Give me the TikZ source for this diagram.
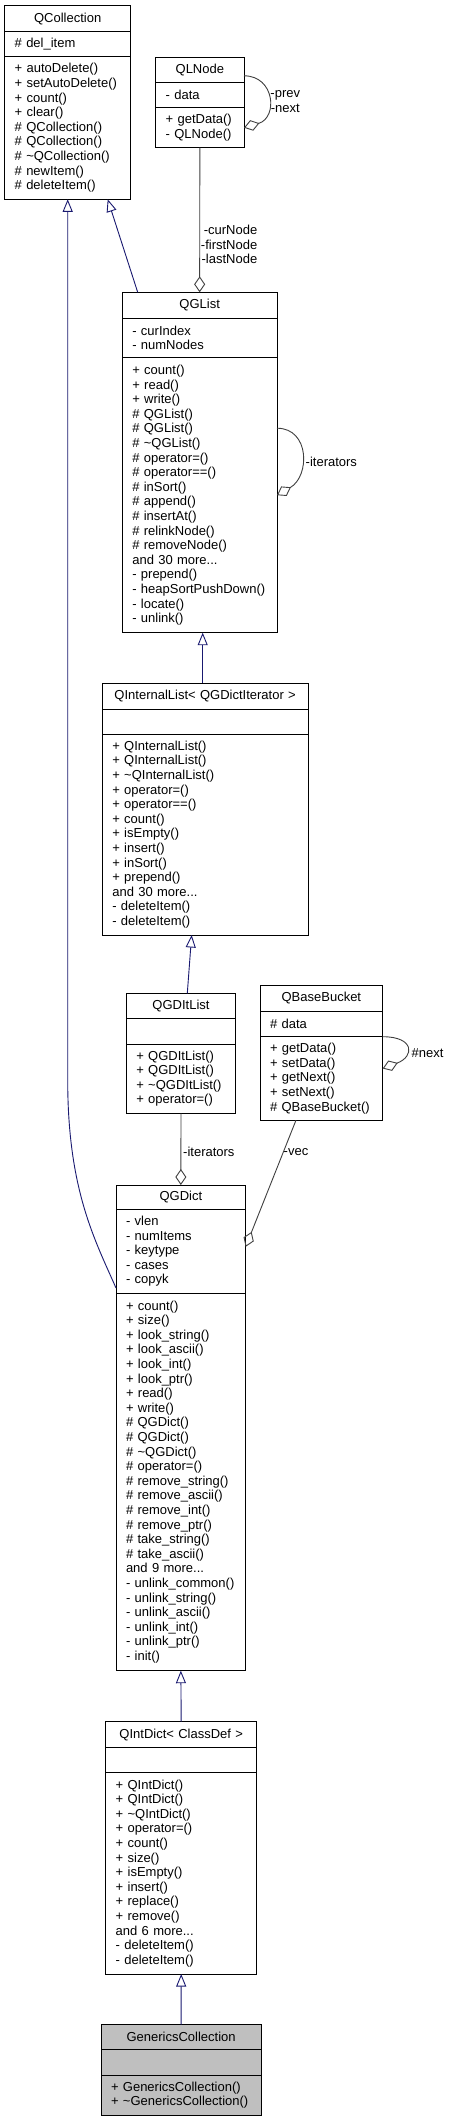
\documentclass[tikz,border=0pt]{standalone}
\usepackage{fontspec}
\setmainfont{Liberation Sans}
\usetikzlibrary{arrows.meta,positioning}

\definecolor{inhblue}{HTML}{191970}
\definecolor{usegray}{HTML}{404040}
\definecolor{curgray}{HTML}{BFBFBF}

\tikzset{
  comp/.style={draw=black, line width=1pt, outer sep=0pt, inner xsep=10pt, inner ysep=0pt,
    text width=#1, align=left},
  head/.style={comp=#1, align=center},
  lbl/.style={inner sep=0pt},
  inherit/.style={draw=inhblue, line width=0.9pt, -{Triangle[open,length=12.5pt,width=10pt]}},
  uses/.style={draw=usegray, line width=0.9pt, -{Diamond[open,length=16pt,width=11pt]}},
}

\begin{document}
\begin{tikzpicture}[x=1pt, y=1pt, font=\fontsize{13pt}{14.6pt}\selectfont]
  \fill[white] (0,0) rectangle (449,-2121);
  \useasboundingbox (0,0) rectangle (449,-2121);

  \node[head=106pt, minimum height=26pt, anchor=north west] (qcoll) at (4.7,-5.7) {QCollection};
  \node[comp=106pt, minimum height=25pt, below=0pt of qcoll] (qcoll-a) {\# del\_item};
  \node[comp=106pt, minimum height=142.6pt, below=0pt of qcoll-a] (qcoll-m)
    {+ autoDelete()\\+ setAutoDelete()\\+ count()\\+ clear()\\\# QCollection()\\\# QCollection()\\\# \textasciitilde QCollection()\\\# newItem()\\\# deleteItem()};

  \node[head=68.3pt, minimum height=25pt, anchor=north west] (qlnode) at (155.7,-57.3) {QLNode};
  \node[comp=68.3pt, minimum height=25.4pt, below=0pt of qlnode] (qlnode-a) {- data};
  \node[comp=68.3pt, minimum height=40pt, below=0pt of qlnode-a] (qlnode-m) {+ getData()\\- QLNode()};

  \node[head=134.7pt, minimum height=26pt, anchor=north west] (qglist) at (122.3,-292.3) {QGList};
  \node[comp=134.7pt, minimum height=39.4pt, below=0pt of qglist] (qglist-a) {- curIndex\\- numNodes};
  \node[comp=134.7pt, minimum height=275pt, below=0pt of qglist-a] (qglist-m)
    {+ count()\\+ read()\\+ write()\\\# QGList()\\\# QGList()\\\# \textasciitilde QGList()\\\# operator=()\\\# operator==()\\\# inSort()\\\# append()\\\# insertAt()\\\# relinkNode()\\\# removeNode()\\and 30 more...\\- prepend()\\- heapSortPushDown()\\- locate()\\- unlink()};

  \node[head=185.7pt, minimum height=26pt, anchor=north west] (qintlist) at (102.3,-683) {QInternalList< QGDictIterator >};
  \node[comp=185.7pt, minimum height=25pt, below=0pt of qintlist] (qintlist-a) {};
  \node[comp=185.7pt, minimum height=201pt, below=0pt of qintlist-a] (qintlist-m)
    {+ QInternalList()\\+ QInternalList()\\+ \textasciitilde QInternalList()\\+ operator=()\\+ operator==()\\+ count()\\+ isEmpty()\\+ insert()\\+ inSort()\\+ prepend()\\and 30 more...\\- deleteItem()\\- deleteItem()};

  \node[head=89.4pt, minimum height=25.4pt, anchor=north west] (qgditlist) at (126.3,-993.3) {QGDItList};
  \node[comp=89.4pt, minimum height=25.3pt, below=0pt of qgditlist] (qgditlist-a) {};
  \node[comp=89.4pt, minimum height=69.3pt, below=0pt of qgditlist-a] (qgditlist-m)
    {+ QGDItList()\\+ QGDItList()\\+ \textasciitilde QGDItList()\\+ operator=()};

  \node[head=102.7pt, minimum height=25.6pt, anchor=north west] (qbb) at (260,-985.7) {QBaseBucket};
  \node[comp=102.7pt, minimum height=25.4pt, below=0pt of qbb] (qbb-a) {\# data};
  \node[comp=102.7pt, minimum height=83.6pt, below=0pt of qbb-a] (qbb-m)
    {+ getData()\\+ setData()\\+ getNext()\\+ setNext()\\\# QBaseBucket()};

  \node[head=109.7pt, minimum height=24.3pt, anchor=north west] (qgdict) at (116,-1185) {QGDict};
  \node[comp=109.7pt, minimum height=84pt, below=0pt of qgdict] (qgdict-a)
    {- vlen\\- numItems\\- keytype\\- cases\\- copyk};
  \node[comp=109.7pt, minimum height=377.4pt, below=0pt of qgdict-a] (qgdict-m)
    {+ count()\\+ size()\\+ look\_string()\\+ look\_ascii()\\+ look\_int()\\+ look\_ptr()\\+ read()\\+ write()\\\# QGDict()\\\# QGDict()\\\# \textasciitilde QGDict()\\\# operator=()\\\# remove\_string()\\\# remove\_ascii()\\\# remove\_int()\\\# remove\_ptr()\\\# take\_string()\\\# take\_ascii()\\and 9 more...\\- unlink\_common()\\- unlink\_string()\\- unlink\_ascii()\\- unlink\_int()\\- unlink\_ptr()\\- init()};

  \node[head=131pt, minimum height=25.6pt, anchor=north west] (qintdict) at (105.7,-1721.7) {QIntDict< ClassDef >};
  \node[comp=131pt, minimum height=25.4pt, below=0pt of qintdict] (qintdict-a) {};
  \node[comp=131pt, minimum height=201.3pt, below=0pt of qintdict-a] (qintdict-m)
    {+ QIntDict()\\+ QIntDict()\\+ \textasciitilde QIntDict()\\+ operator=()\\+ count()\\+ size()\\+ isEmpty()\\+ insert()\\+ replace()\\+ remove()\\and 6 more...\\- deleteItem()\\- deleteItem()};

  \node[head=140.3pt, fill=curgray, minimum height=25pt, anchor=north west] (gencoll) at (101,-2024.7) {GenericsCollection};
  \node[comp=140.3pt, fill=curgray, minimum height=25.6pt, below=0pt of gencoll] (gencoll-a) {};
  \node[comp=140.3pt, fill=curgray, minimum height=39.7pt, below=0pt of gencoll-a] (gencoll-m)
    {+ GenericsCollection()\\+ \textasciitilde GenericsCollection()};

  \draw[inherit] ([xshift=15.4pt]qglist.north west) -- ([xshift=40pt]qcoll-m.south);
  \draw[inherit] ([yshift=-36.7pt]qgdict-a.west) .. controls +(-21,48) and +(0,-110) .. (qcoll-m.south |- 0,-1080) -- (qcoll-m.south);
  \draw[inherit] (qintlist.north -| 202.7,0) -- (qglist-m.south -| 202.7,0);
  \draw[inherit] ([xshift=6.3pt]qgditlist.north) -- ([xshift=-13.5pt]qintlist-m.south);
  \draw[inherit] (qintdict.north) -- (qgdict-m.south);
  \draw[inherit] (gencoll.north) -- (qintdict-m.south);

  \draw[uses] ([yshift=-6pt]qlnode.east) .. controls +(31,0) and +(34,10) .. (qlnode-m.east);
  \node[lbl, align=center] (lbl-prev) at (285.3,-101.7) {-prev\\-next};
  \draw[uses] (qlnode-m.south) -- (qglist.north);
  \node[lbl, align=right, anchor=east] (lbl-nodes) at (257.5,-244.5) {-curNode\\-firstNode\\-lastNode};
  \draw[uses] ([yshift=67pt]qglist-m.east) .. controls +(33,0) and +(33,19) .. (qglist-m.east);
  \node[lbl, anchor=west] (lbl-iter1) at (305.5,-461.7) {-iterators};
  \draw[uses] (qbb-m.north east) .. controls +(32,0) and +(32,12) .. ([yshift=10pt]qbb-m.east);
  \node[lbl, anchor=west] (lbl-next) at (411.5,-1052.7) {\#next};
  \draw[uses] (qgditlist-m.south) -- (qgdict.north);
  \node[lbl, anchor=west] (lbl-iter2) at (183,-1151.7) {-iterators};
  \draw[uses] ([xshift=-25.4pt]qbb-m.south) -- ([yshift=4.6pt]qgdict-a.east);
  \node[lbl, anchor=west] (lbl-vec) at (283.5,-1151.7) {-vec};
\end{tikzpicture}
\end{document}
